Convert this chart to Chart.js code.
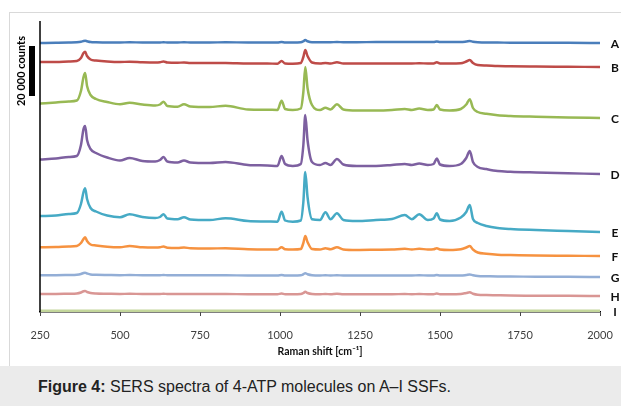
<!DOCTYPE html>
<html>
<head>
<meta charset="utf-8">
<script src="https://cdn.jsdelivr.net/npm/chart.js@4.4.0/dist/chart.umd.min.js"></script>
<style>
  html, body { margin: 0; padding: 0; background: #fff; }
  body { width: 621px; height: 406px; position: relative; overflow: hidden; }
  #frame { position: absolute; left: 9px; top: 12px; width: 700px; height: 360px; border: 1px solid #d9d9d9; }
  #chartBox { position: absolute; left: 0; top: 0; width: 621px; height: 366px; }
  #caption {
    position: absolute; left: 0; top: 366px; width: 621px; height: 40px;
    background: #ebebeb; box-sizing: border-box; padding-left: 38px;
    font-family: "Liberation Sans", Arial, sans-serif; font-size: 16px;
    line-height: 42px; color: #222;
  }
</style>
</head>
<body>
<div id="frame"></div>
<div id="chartBox"><canvas id="spectra" width="621" height="366"></canvas></div>
<div id="caption"><b>Figure 4:</b> SERS spectra of 4-ATP molecules on A–I SSFs.</div>
<script>
// Raman shift grid (cm-1)
const shift = [250, 300, 340, 365, 378, 386, 391, 397, 408, 425,
  460, 500, 530, 570, 610, 625, 636, 648, 680, 700,
  720, 780, 830, 900, 960, 992, 1005, 1016, 1040, 1065,
  1073, 1079, 1086, 1100, 1125, 1142, 1158, 1178, 1198, 1240,
  1300, 1350, 1390, 1412, 1435, 1462, 1480, 1490, 1500, 1530,
  1565, 1582, 1593, 1603, 1618, 1645, 1680, 1720, 1800, 1900, 2000];

// intensities in thousands of counts, above each spectrum's own end value
const specA = [0.0, 0.1, 0.2, 0.3, 0.5, 0.8, 0.9, 0.7, 0.4, 0.3,
  0.2, 0.2, 0.3, 0.2, 0.2, 0.2, 0.3, 0.2, 0.2, 0.3,
  0.2, 0.2, 0.3, 0.2, 0.2, 0.2, 0.4, 0.2, 0.2, 0.3,
  0.7, 1.2, 0.7, 0.3, 0.3, 0.3, 0.3, 0.4, 0.3, 0.3,
  0.4, 0.4, 0.4, 0.4, 0.4, 0.4, 0.4, 0.6, 0.4, 0.4,
  0.4, 0.6, 0.8, 0.5, 0.3, 0.2, 0.2, 0.1, 0.1, 0.1, 0];
const specB = [2.0, 2.0, 2.2, 2.4, 3.6, 5.6, 6.1, 4.4, 3.0, 2.6,
  2.2, 2.0, 2.1, 1.9, 1.8, 1.9, 2.2, 1.8, 1.7, 1.8,
  1.6, 1.6, 1.6, 1.4, 1.4, 1.3, 2.4, 1.4, 1.3, 1.6,
  4.0, 6.8, 4.4, 1.8, 1.4, 1.6, 1.4, 1.9, 1.4, 1.4,
  1.4, 1.4, 1.4, 1.4, 1.5, 1.4, 1.4, 1.9, 1.4, 1.4,
  1.5, 2.2, 2.8, 1.6, 0.8, 0.6, 0.4, 0.3, 0.2, 0.1, 0];
const specC = [5.8, 6.2, 6.6, 7.0, 10.8, 16.4, 18.0, 12.8, 9.2, 7.6,
  6.4, 5.5, 6.1, 5.4, 5.0, 5.4, 6.5, 4.8, 4.5, 5.5,
  4.6, 4.4, 4.9, 3.4, 3.3, 3.2, 6.9, 3.6, 3.2, 3.8,
  10.4, 20.4, 12.0, 5.2, 3.2, 4.1, 3.4, 5.5, 3.4, 3.0,
  3.0, 3.2, 3.6, 3.2, 3.8, 3.2, 3.4, 5.2, 3.4, 3.0,
  3.6, 5.4, 7.5, 4.0, 2.4, 1.7, 1.1, 0.8, 0.5, 0.2, 0];
const specD = [5.8, 6.2, 6.8, 7.2, 11.6, 18.0, 19.2, 13.6, 10.0, 8.4,
  6.6, 5.4, 6.4, 5.2, 5.0, 5.6, 6.8, 5.0, 4.6, 5.4,
  4.6, 4.4, 4.8, 3.6, 3.4, 3.2, 7.2, 4.0, 3.2, 4.0,
  11.6, 23.6, 13.6, 4.8, 3.6, 4.4, 3.6, 6.0, 3.8, 3.2,
  3.2, 3.6, 4.0, 3.6, 4.2, 3.6, 4.0, 6.2, 3.8, 3.2,
  4.0, 6.4, 9.2, 4.8, 2.8, 2.0, 1.2, 0.9, 0.6, 0.3, 0];
const specE = [6.4, 6.6, 7.2, 7.6, 11.2, 16.0, 17.5, 13.2, 9.6, 8.2,
  6.6, 5.9, 7.1, 6.0, 5.6, 6.0, 7.1, 5.4, 5.1, 5.9,
  5.0, 4.8, 5.5, 4.4, 4.2, 4.1, 8.1, 4.6, 4.1, 4.6,
  12.0, 24.0, 14.0, 5.1, 4.8, 7.9, 5.1, 7.5, 4.8, 4.4,
  4.8, 5.2, 6.8, 5.1, 7.1, 4.8, 5.4, 7.5, 5.0, 4.4,
  5.8, 8.0, 10.8, 5.2, 3.6, 2.4, 1.6, 1.2, 0.8, 0.4, 0];
const specF = [3.5, 3.6, 3.8, 4.0, 5.2, 6.8, 7.5, 6.0, 4.6, 4.2,
  3.7, 3.5, 4.0, 3.5, 3.4, 3.5, 3.8, 3.3, 3.2, 3.4,
  3.1, 3.0, 3.1, 2.7, 2.6, 2.6, 3.5, 2.7, 2.6, 2.8,
  5.2, 8.0, 5.6, 2.8, 2.6, 3.1, 2.7, 3.5, 2.6, 2.4,
  2.5, 2.6, 2.9, 2.6, 2.9, 2.6, 2.7, 3.1, 2.6, 2.4,
  2.7, 3.4, 4.0, 2.6, 1.4, 0.9, 0.5, 0.4, 0.2, 0.1, 0];
const specG = [0.7, 0.7, 0.8, 0.9, 1.2, 1.6, 1.7, 1.4, 1.0, 0.9,
  0.8, 0.7, 0.8, 0.7, 0.7, 0.7, 0.8, 0.7, 0.7, 0.7,
  0.7, 0.7, 0.7, 0.6, 0.6, 0.6, 0.8, 0.6, 0.6, 0.7,
  1.1, 1.5, 1.1, 0.7, 0.6, 0.7, 0.6, 0.7, 0.6, 0.6,
  0.6, 0.6, 0.6, 0.6, 0.7, 0.6, 0.6, 0.8, 0.6, 0.6,
  0.6, 0.8, 1.0, 0.7, 0.4, 0.3, 0.2, 0.2, 0.1, 0.1, 0];
const specH = [0.8, 0.8, 0.9, 1.0, 1.4, 1.9, 2.0, 1.6, 1.2, 1.0,
  0.9, 0.8, 0.9, 0.8, 0.8, 0.8, 0.9, 0.8, 0.8, 0.8,
  0.8, 0.8, 0.8, 0.7, 0.7, 0.7, 1.0, 0.7, 0.7, 0.8,
  1.2, 1.7, 1.2, 0.8, 0.7, 0.8, 0.7, 0.9, 0.7, 0.7,
  0.7, 0.7, 0.8, 0.7, 0.8, 0.7, 0.7, 1.0, 0.7, 0.7,
  0.8, 1.2, 1.5, 0.9, 0.5, 0.4, 0.3, 0.2, 0.1, 0.1, 0];
const specI = [0, 0, 0, 0, 0, 0, 0, 0, 0, 0,
  0, 0, 0, 0, 0, 0, 0, 0, 0, 0,
  0, 0, 0, 0, 0, 0, 0, 0, 0, 0,
  0, 0, 0, 0, 0, 0, 0, 0, 0, 0,
  0, 0, 0, 0, 0, 0, 0, 0, 0, 0,
  0, 0, 0, 0, 0, 0, 0, 0, 0, 0, 0];

const names = ['A', 'B', 'C', 'D', 'E', 'F', 'G', 'H', 'I'];
const offsets = [107.6, 98.0, 77.6, 55.2, 32.0, 22.4, 14.0, 6.4, 0.4]; // stacking offsets, kcounts
const xTicks = [250, 500, 750, 1000, 1250, 1500, 1750, 2000];
const scaleBar = 20;      // 20 000 counts
const scaleBarBase = 86.4;

const spectra = [specA, specB, specC, specD, specE, specF, specG, specH, specI];
const colors = ['#4a7ebb', '#be4b48', '#98b954', '#7d60a0', '#46aac5', '#f69240', '#93aed6', '#d99694', '#c3d69b'];

// letters at the right end of each trace + the counts bar on the left
const sideMarks = {
    id: 'sideMarks',
    afterDraw(chart) {
        const ctx = chart.ctx;
        const area = chart.chartArea;
        const ys = chart.scales.y;
        ctx.save();
        ctx.fillStyle = '#111';
        ctx.font = 'bold 12px Lato';
        ctx.textAlign = 'center';
        ctx.textBaseline = 'middle';
        chart.data.datasets.forEach((ds, i) => {
            const pts = chart.getDatasetMeta(i).data;
            ctx.fillText(ds.label, area.right + 15, pts[pts.length - 1].y + 1);
        });
        // y axis line
        ctx.strokeStyle = '#000';
        ctx.lineWidth = 1.5;
        ctx.beginPath();
        ctx.moveTo(area.left, area.top);
        ctx.lineTo(area.left, area.bottom);
        ctx.stroke();
        // counts bar
        const top = ys.getPixelForValue(scaleBarBase + scaleBar);
        const bot = ys.getPixelForValue(scaleBarBase);
        ctx.fillStyle = '#000';
        ctx.fillRect(area.left - 11, top, 6, bot - top);
        ctx.translate(area.left - 19, (top + bot) / 2);
        ctx.rotate(-Math.PI / 2);
        ctx.font = 'bold 11px Lato';
        ctx.fillText((scaleBar * 1000).toLocaleString('en').replace(',', ' ') + ' counts', 0, 0);
        ctx.restore();
    }
};

new Chart(document.getElementById('spectra'), {
    type: 'line',
    data: {
        datasets: spectra.map((s, k) => ({
            label: names[k],
            data: shift.map((x, i) => ({ x: x, y: s[i] + offsets[k] })),
            borderColor: colors[k],
            borderWidth: k === 8 ? 3 : 2.5,
            pointRadius: 0,
            cubicInterpolationMode: 'monotone',
            fill: false
        }))
    },
    options: {
        responsive: false,
        animation: false,
        devicePixelRatio: 1,
        layout: { padding: { left: 40, right: 21, top: 21, bottom: 0 } },
        plugins: { legend: { display: false }, tooltip: { enabled: false } },
        scales: {
            x: {
                type: 'linear',
                min: 250,
                max: 2000,
                afterBuildTicks: (scale) => { scale.ticks = xTicks.map(v => ({ value: v })); },
                afterFit: (scale) => {
                    scale.height = 54;
                    scale.paddingLeft = 0;
                    scale.paddingRight = 0;
                },
                grid: { display: true, drawOnChartArea: false, drawTicks: true, tickLength: 4, color: '#444' },
                border: { display: true, color: '#000', width: 1.5 },
                ticks: {
                    font: { family: 'Lato', size: 11 }, color: '#404040', padding: 13, maxRotation: 0,
                    callback: (v) => String(v)
                },
                title: {
                    display: true,
                    text: 'Raman shift [cm⁻¹]',
                    font: { family: 'Lato', size: 10.5, weight: 'bold' },
                    color: '#111',
                    padding: { top: 0, bottom: 8 }
                }
            },
            y: {
                min: 0,
                max: 116.4,
                afterFit: (scale) => { scale.width = 0; },
                grid: { display: false, drawTicks: false },
                border: { display: false },
                ticks: { display: false }
            }
        }
    },
    plugins: [sideMarks]
});
</script>
</body>
</html>
